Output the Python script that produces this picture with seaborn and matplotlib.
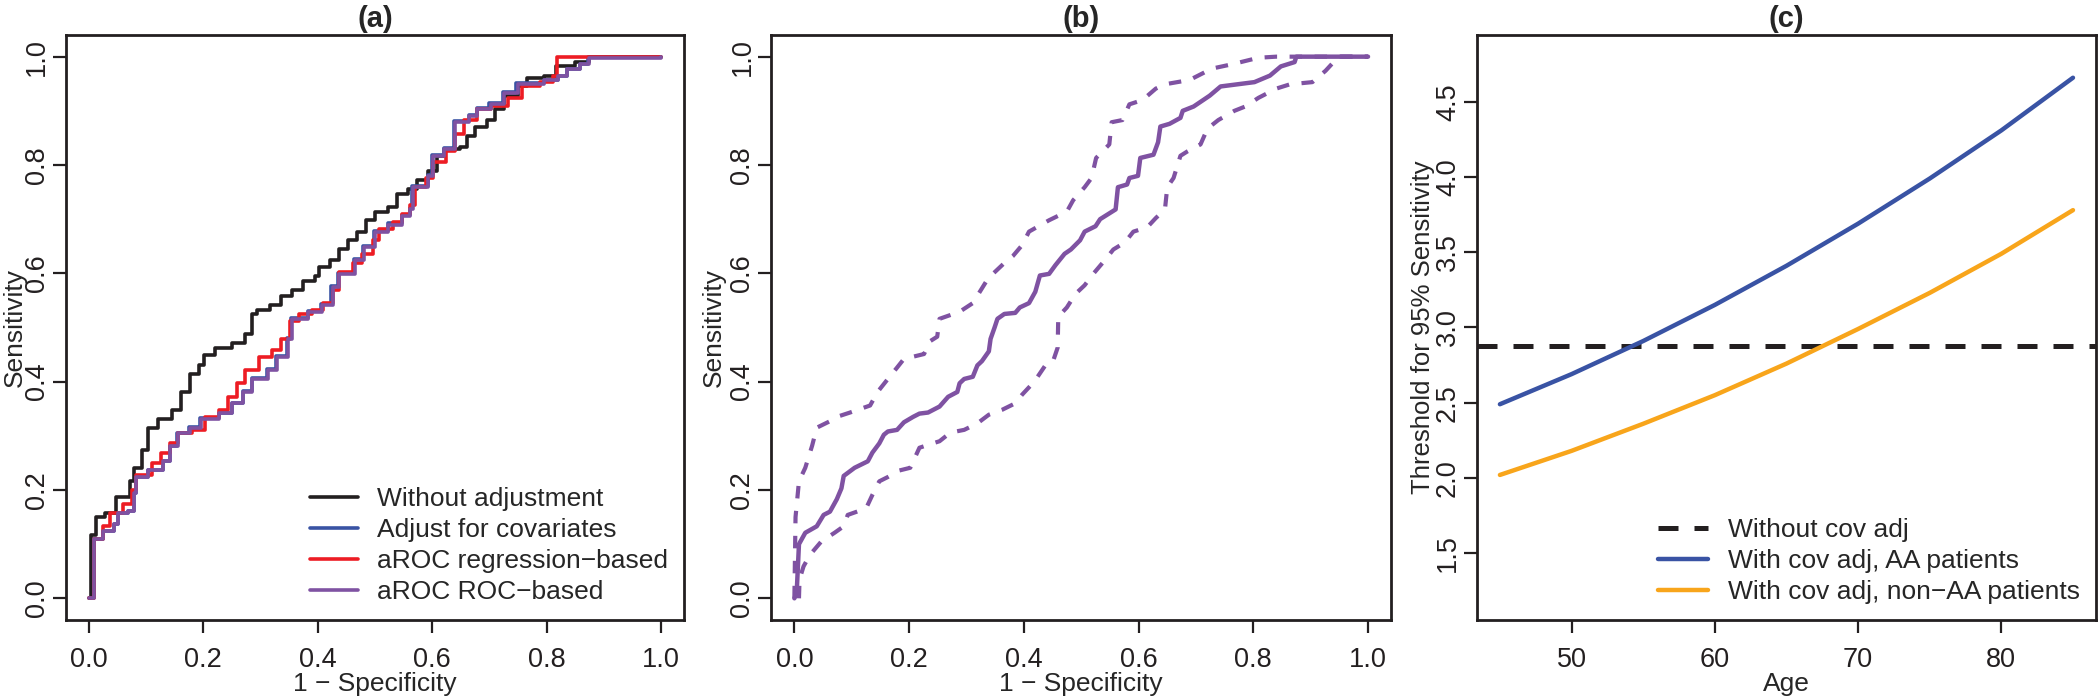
import numpy as np
import pandas as pd
import matplotlib
matplotlib.use('Agg')
import matplotlib.pyplot as plt
import seaborn as sns

# ---- panel (a): ROC curves (1 - specificity, sensitivity) ----
fpr_raw = [0, 0.005, 0.013, 0.029, 0.048, 0.072, 0.079, 0.093, 0.103, 0.122, 0.146, 0.161,
           0.177, 0.192, 0.202, 0.22, 0.25, 0.274, 0.286, 0.294, 0.317, 0.336, 0.356, 0.375,
           0.395, 0.403, 0.422, 0.438, 0.453, 0.469, 0.484, 0.5, 0.523, 0.539, 0.558, 0.574,
           0.593, 0.609, 0.621, 0.648, 0.66, 0.675, 0.695, 0.71, 0.726, 0.749, 0.765, 0.796,
           0.816, 0.85, 0.874, 1.0]
tpr_raw = [0, 0.117, 0.15, 0.158, 0.187, 0.216, 0.24, 0.273, 0.315, 0.331, 0.348, 0.381,
           0.414, 0.43, 0.45, 0.463, 0.471, 0.488, 0.525, 0.533, 0.541, 0.558, 0.57, 0.585,
           0.595, 0.611, 0.624, 0.644, 0.661, 0.677, 0.698, 0.714, 0.722, 0.747, 0.755, 0.772,
           0.788, 0.817, 0.83, 0.834, 0.854, 0.871, 0.883, 0.904, 0.928, 0.945, 0.961, 0.965,
           0.982, 0.99, 1.0, 1.0]

fpr_reg = [0, 0.005, 0.009, 0.025, 0.037, 0.06, 0.075, 0.083, 0.111, 0.126, 0.142, 0.157,
           0.181, 0.204, 0.227, 0.243, 0.259, 0.274, 0.298, 0.321, 0.336, 0.352, 0.368, 0.391,
           0.41, 0.426, 0.438, 0.461, 0.477, 0.496, 0.508, 0.531, 0.547, 0.562, 0.57, 0.59,
           0.601, 0.625, 0.64, 0.656, 0.679, 0.702, 0.733, 0.757, 0.788, 0.811, 0.818, 1.0]
tpr_reg = [0, 0, 0.109, 0.133, 0.158, 0.175, 0.2, 0.228, 0.249, 0.269, 0.286, 0.306,
           0.31, 0.335, 0.348, 0.372, 0.397, 0.422, 0.446, 0.459, 0.479, 0.512, 0.525, 0.533,
           0.545, 0.57, 0.603, 0.619, 0.636, 0.661, 0.681, 0.694, 0.71, 0.727, 0.759, 0.776,
           0.805, 0.825, 0.858, 0.883, 0.904, 0.908, 0.924, 0.945, 0.953, 0.965, 1.0, 1.0]

fpr_cov = [0, 0.005, 0.009, 0.025, 0.044, 0.052, 0.068, 0.079, 0.083, 0.103, 0.13, 0.142,
           0.155, 0.175, 0.194, 0.227, 0.251, 0.27, 0.286, 0.311, 0.327, 0.347, 0.354, 0.383,
           0.405, 0.424, 0.436, 0.463, 0.479, 0.498, 0.523, 0.547, 0.562, 0.564, 0.593, 0.599,
           0.621, 0.638, 0.664, 0.679, 0.7, 0.724, 0.747, 0.796, 0.82, 0.835, 0.858, 0.872, 1.0]
tpr_cov = [0, 0, 0.109, 0.125, 0.138, 0.158, 0.162, 0.195, 0.224, 0.236, 0.253, 0.282,
           0.306, 0.317, 0.333, 0.343, 0.36, 0.383, 0.407, 0.424, 0.448, 0.481, 0.518, 0.531,
           0.543, 0.576, 0.601, 0.626, 0.65, 0.679, 0.692, 0.708, 0.72, 0.761, 0.782, 0.819,
           0.832, 0.881, 0.893, 0.906, 0.914, 0.934, 0.951, 0.957, 0.965, 0.978, 0.986, 1.0, 1.0]

fpr_roc = [0, 0.005, 0.009, 0.025, 0.044, 0.052, 0.068, 0.079, 0.083, 0.103, 0.13, 0.142,
           0.157, 0.177, 0.196, 0.227, 0.251, 0.27, 0.286, 0.313, 0.329, 0.349, 0.356, 0.383,
           0.407, 0.426, 0.438, 0.465, 0.481, 0.5, 0.523, 0.547, 0.562, 0.566, 0.593, 0.601,
           0.621, 0.64, 0.664, 0.679, 0.702, 0.726, 0.749, 0.796, 0.82, 0.835, 0.858, 0.874, 1.0]
tpr_roc = [0, 0, 0.109, 0.125, 0.138, 0.158, 0.162, 0.195, 0.224, 0.236, 0.253, 0.282,
           0.306, 0.315, 0.331, 0.343, 0.36, 0.381, 0.405, 0.422, 0.446, 0.479, 0.516, 0.529,
           0.541, 0.574, 0.599, 0.624, 0.648, 0.677, 0.69, 0.706, 0.718, 0.759, 0.78, 0.817,
           0.83, 0.879, 0.891, 0.904, 0.912, 0.932, 0.949, 0.957, 0.965, 0.978, 0.986, 0.998, 1.0]

# ---- panel (b): aROC ROC-based with confidence band ----
fpr_mid = [0, 0.004, 0.008, 0.019, 0.039, 0.051, 0.062, 0.074, 0.082, 0.086, 0.105, 0.128,
           0.136, 0.148, 0.156, 0.163, 0.179, 0.191, 0.207, 0.218, 0.233, 0.253, 0.268, 0.284,
           0.288, 0.296, 0.311, 0.319, 0.327, 0.339, 0.342, 0.349, 0.354, 0.366, 0.385, 0.393,
           0.409, 0.42, 0.428, 0.444, 0.455, 0.471, 0.482, 0.498, 0.506, 0.525, 0.533, 0.56,
           0.564, 0.58, 0.584, 0.599, 0.603, 0.626, 0.634, 0.638, 0.654, 0.673, 0.677, 0.696,
           0.724, 0.743, 0.802, 0.829, 0.848, 0.872, 0.875, 1.0]
tpr_mid = [0, 0.01, 0.1, 0.121, 0.133, 0.154, 0.16, 0.183, 0.203, 0.226, 0.241, 0.253,
           0.269, 0.286, 0.302, 0.308, 0.311, 0.325, 0.335, 0.341, 0.343, 0.354, 0.372, 0.381,
           0.397, 0.405, 0.409, 0.43, 0.438, 0.456, 0.479, 0.5, 0.516, 0.525, 0.527, 0.537,
           0.545, 0.566, 0.596, 0.599, 0.615, 0.636, 0.644, 0.661, 0.677, 0.687, 0.7, 0.718,
           0.759, 0.764, 0.776, 0.78, 0.813, 0.819, 0.842, 0.871, 0.876, 0.887, 0.9, 0.908,
           0.928, 0.945, 0.953, 0.965, 0.982, 0.99, 1.0, 1.0]

fpr_upper = [0, 0.002, 0.008, 0.019, 0.031, 0.039, 0.062, 0.074, 0.097, 0.132, 0.145, 0.163,
             0.179, 0.191, 0.226, 0.237, 0.249, 0.253, 0.288, 0.311, 0.335, 0.346, 0.366, 0.381,
             0.397, 0.409, 0.444, 0.475, 0.486, 0.506, 0.518, 0.526, 0.549, 0.553, 0.572, 0.584,
             0.607, 0.63, 0.646, 0.689, 0.728, 0.763, 0.809, 0.84, 1.0]
tpr_upper = [0, 0.15, 0.216, 0.241, 0.282, 0.315, 0.327, 0.335, 0.343, 0.356, 0.381, 0.405,
             0.426, 0.442, 0.451, 0.475, 0.483, 0.516, 0.529, 0.545, 0.586, 0.599, 0.619, 0.632,
             0.652, 0.677, 0.698, 0.714, 0.735, 0.759, 0.776, 0.813, 0.838, 0.879, 0.883, 0.912,
             0.92, 0.941, 0.949, 0.957, 0.978, 0.986, 0.998, 1.0, 1.0]

fpr_lower = [0.008, 0.009, 0.016, 0.027, 0.047, 0.07, 0.086, 0.093, 0.125, 0.136, 0.148, 0.163,
             0.183, 0.202, 0.218, 0.241, 0.253, 0.272, 0.296, 0.319, 0.339, 0.362, 0.385, 0.397,
             0.412, 0.424, 0.44, 0.451, 0.459, 0.46, 0.475, 0.49, 0.506, 0.521, 0.541, 0.556,
             0.576, 0.591, 0.615, 0.63, 0.646, 0.65, 0.661, 0.673, 0.685, 0.708, 0.72, 0.739,
             0.767, 0.786, 0.809, 0.84, 0.864, 0.903, 0.926, 0.94, 0.945, 1.0]
tpr_lower = [0, 0.035, 0.059, 0.08, 0.105, 0.121, 0.133, 0.154, 0.166, 0.191, 0.216, 0.224,
             0.236, 0.241, 0.278, 0.286, 0.29, 0.306, 0.311, 0.323, 0.339, 0.348, 0.36, 0.376,
             0.393, 0.409, 0.434, 0.438, 0.463, 0.52, 0.537, 0.562, 0.578, 0.599, 0.624, 0.644,
             0.657, 0.677, 0.685, 0.702, 0.718, 0.759, 0.776, 0.817, 0.825, 0.838, 0.867, 0.883,
             0.9, 0.908, 0.924, 0.941, 0.949, 0.953, 0.974, 0.99, 1.0, 1.0]

# ---- panel (c): threshold for 95% sensitivity by age ----
age = [45, 50, 55, 60, 65, 70, 75, 80, 85]
thr_aa = [2.49, 2.69, 2.91, 3.15, 3.41, 3.69, 3.99, 4.31, 4.66]
thr_non_aa = [2.02, 2.18, 2.36, 2.55, 2.76, 2.99, 3.23, 3.49, 3.78]
thr_no_adj = 2.876

C_BLACK = '#231f20'
C_BLUE = '#3953a4'
C_RED = '#ed1c24'
C_PURPLE = '#7f52a2'
C_ORANGE = '#f8a51b'

sns.set_theme(style='white', rc={
    'axes.edgecolor': C_BLACK, 'axes.linewidth': 2.0,
    'xtick.bottom': True, 'ytick.left': True,
    'xtick.major.size': 9.5, 'ytick.major.size': 9.5,
    'xtick.major.width': 1.6, 'ytick.major.width': 1.6,
    'xtick.color': C_BLACK, 'ytick.color': C_BLACK,
    'xtick.major.pad': 10, 'ytick.major.pad': 2,
})
plt.rcParams['font.family'] = ['Liberation Sans', 'DejaVu Sans']

FS_TICK = 19.5
FS_LAB = 19

fig = plt.figure(figsize=(20.98, 7.0), dpi=100)
ax_a = fig.add_axes([0.0313, 0.1143, 0.2948, 0.8357])
ax_b = fig.add_axes([0.3677, 0.1143, 0.2953, 0.8357])
ax_c = fig.add_axes([0.7040, 0.1143, 0.2950, 0.8357])


def roc_line(ax, x, y, color, lw, label=None, dashes=None, steps=False):
    d = pd.DataFrame({'x': x, 'y': y})
    kw = {'drawstyle': 'steps-post'} if steps else {}
    sns.lineplot(data=d, x='x', y='y', ax=ax, color=color, lw=lw, estimator=None,
                 sort=False, label=label, **kw)
    if dashes is not None:
        ax.get_lines()[-1].set_dashes(dashes)


def style_axes(ax, title, xlabel, ylabel, ylab_x, ylab_fs=FS_LAB):
    for s in ax.spines.values():
        s.set_visible(True)
        s.set_linewidth(2.0)
    ax.set_title(title, fontsize=21, fontweight='bold', pad=6)
    ax.set_xlabel(xlabel, fontsize=FS_LAB, labelpad=-1)
    ax.set_ylabel(ylabel, fontsize=ylab_fs)
    ax.yaxis.set_label_coords(ylab_x, 0.5)
    ax.tick_params(labelsize=FS_TICK)
    ax.tick_params(axis='y', labelrotation=90)
    for lbl in ax.get_yticklabels():
        lbl.set_va('center')


roc_ticks = [0.0, 0.2, 0.4, 0.6, 0.8, 1.0]

# (a)
roc_line(ax_a, fpr_raw, tpr_raw, C_BLACK, 2.6, 'Without adjustment', steps=True)
roc_line(ax_a, fpr_cov, tpr_cov, C_BLUE, 2.6, 'Adjust for covariates', steps=True)
roc_line(ax_a, fpr_reg, tpr_reg, C_RED, 2.6, 'aROC regression\u2212based', steps=True)
roc_line(ax_a, fpr_roc, tpr_roc, C_PURPLE, 2.6, 'aROC ROC\u2212based', steps=True)
ax_a.set_xlim(-0.04, 1.04)
ax_a.set_ylim(-0.04, 1.04)
ax_a.set_xticks(roc_ticks)
ax_a.set_yticks(roc_ticks)
ax_a.set_xticklabels(['%.1f' % t for t in roc_ticks])
ax_a.set_yticklabels(['%.1f' % t for t in roc_ticks])
style_axes(ax_a, '(a)', '1 \u2212 Specificity', 'Sensitivity', -0.062)
ax_a.legend(loc='lower right', bbox_to_anchor=(1.0, 0.0), frameon=False, fontsize=19,
            handlelength=1.8, handletextpad=0.75, labelspacing=0.27, borderaxespad=0.2)

# (b)
roc_line(ax_b, fpr_upper, tpr_upper, C_PURPLE, 3.0, dashes=(3, 3))
roc_line(ax_b, fpr_lower, tpr_lower, C_PURPLE, 3.0, dashes=(3, 3))
roc_line(ax_b, fpr_mid, tpr_mid, C_PURPLE, 3.2)
ax_b.set_xlim(-0.04, 1.04)
ax_b.set_ylim(-0.04, 1.04)
ax_b.set_xticks(roc_ticks)
ax_b.set_yticks(roc_ticks)
ax_b.set_xticklabels(['%.1f' % t for t in roc_ticks])
ax_b.set_yticklabels(['%.1f' % t for t in roc_ticks])
style_axes(ax_b, '(b)', '1 \u2212 Specificity', 'Sensitivity', -0.073)

# (c)
ax_c.axhline(thr_no_adj, color=C_BLACK, lw=3.6, dashes=(4, 3.2), label='Without cov adj')
df_c = pd.DataFrame({'age': age * 2, 'thr': thr_aa + thr_non_aa,
                     'group': ['With cov adj, AA patients'] * len(age)
                     + ['With cov adj, non\u2212AA patients'] * len(age)})
sns.lineplot(data=df_c, x='age', y='thr', hue='group', ax=ax_c, lw=3.2,
             palette=[C_BLUE, C_ORANGE], estimator=None)
ax_c.set_xlim(43.4, 86.6)
ax_c.set_ylim(1.056, 4.944)
ax_c.set_xticks([50, 60, 70, 80])
ax_c.set_yticks([1.5, 2.0, 2.5, 3.0, 3.5, 4.0, 4.5])
ax_c.set_yticklabels(['1.5', '2.0', '2.5', '3.0', '3.5', '4.0', '4.5'])
style_axes(ax_c, '(c)', 'Age', 'Threshold for 95% Sensitivity', -0.068, ylab_fs=18.5)
ax_c.legend(loc='lower right', bbox_to_anchor=(1.0, 0.0), frameon=False, fontsize=19,
            handlelength=1.9, handletextpad=0.75, labelspacing=0.27, borderaxespad=0.2)

fig.savefig('out.png', dpi=100)
